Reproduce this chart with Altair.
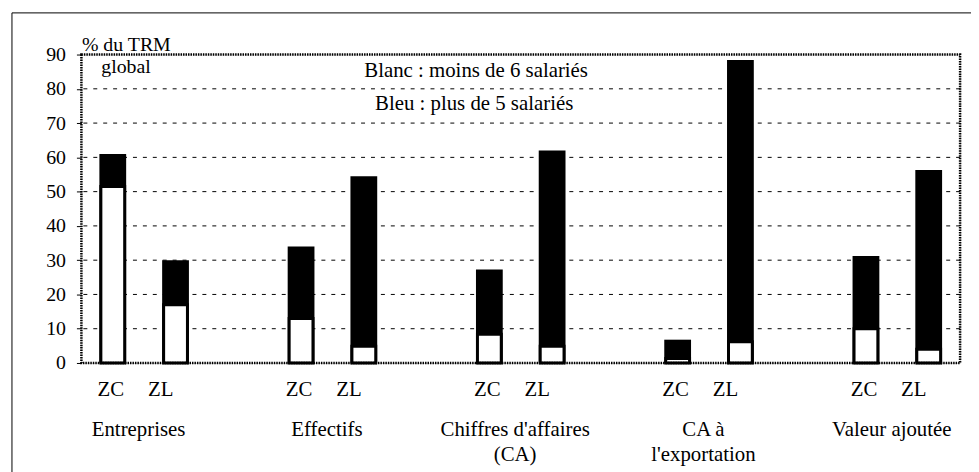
import altair as alt
import pandas as pd

FONT = "Liberation Serif"

GROUPS = ["Entreprises", "Effectifs", "Chiffres d'affaires (CA)", "CA à l'exportation", "Valeur ajoutée"]
GROUP_LABELS = ["Entreprises", "Effectifs", "Chiffres d'affaires\n(CA)", "CA à\nl'exportation", "Valeur ajoutée"]
ZONES = ["ZC", "ZL"]

# white part = moins de 6 salariés ; total = white + plus de 5 salariés
WHITE_ZC = [51.5, 13.0, 8.4, 1.3, 10.0]
TOTAL_ZC = [61.0, 34.0, 27.3, 6.8, 31.2]
WHITE_ZL = [17.0, 4.9, 4.9, 6.2, 4.0]
TOTAL_ZL = [30.0, 54.5, 62.0, 88.4, 56.3]

Y_TICKS = [0, 10, 20, 30, 40, 50, 60, 70, 80, 90]
GRID_VALUES = [10, 20, 30, 40, 50, 60, 70, 80]

AXIS_TITLE = "% du TRM"
SUBTITLE = "global"
LEGEND_LINES = ["Blanc : moins de 6 salariés", "Bleu : plus de 5 salariés"]

slots = []
for i, g in enumerate(GROUPS):
    slots += [f"{g}|ZC", f"{g}|ZL"]
    if i < len(GROUPS) - 1:
        slots.append(f"gap{i}")

rows = []
for i, g in enumerate(GROUPS):
    rows.append(dict(slot=f"{g}|ZC", zone="ZC", group=g, white=WHITE_ZC[i], total=TOTAL_ZC[i]))
    rows.append(dict(slot=f"{g}|ZL", zone="ZL", group=g, white=WHITE_ZL[i], total=TOTAL_ZL[i]))
df = pd.DataFrame(rows)

grp_df = pd.DataFrame({"slot": [f"{g}|ZC" for g in GROUPS], "label": GROUP_LABELS})
grid_df = pd.DataFrame({"g": GRID_VALUES})
one = pd.DataFrame({"a": [0]})

W, H = 886, 311
FS = 21

xscale = alt.Scale(domain=slots, paddingInner=0, paddingOuter=0)
yscale = alt.Scale(domain=[0, 90], nice=False)
yaxis = alt.Axis(
    values=Y_TICKS, grid=False, domain=False, ticks=True, tickSize=5,
    tickColor="black", tickWidth=1, labelFont=FONT, labelFontSize=20,
    labelColor="black", labelPadding=11, title=AXIS_TITLE, titleFont=FONT,
    titleFontSize=20, titleFontWeight="normal", titleColor="black",
    titleAngle=0, titleAlign="left", titleBaseline="alphabetic", titleX=0, titleY=-4,
)

X = alt.X("slot:N", scale=xscale, axis=None)

grid = alt.Chart(grid_df).mark_rule(color="black", strokeWidth=1, strokeDash=[4, 6]).encode(
    y=alt.Y("g:Q", scale=yscale, axis=yaxis)
)

black = alt.Chart(df).mark_bar(width=27, color="black").encode(
    x=X, y=alt.Y("total:Q", scale=yscale, axis=yaxis, stack=None)
)
white = alt.Chart(df).mark_bar(width=24, fill="white", stroke="black", strokeWidth=3).encode(
    x=X, y=alt.Y("white:Q", scale=yscale, axis=yaxis, stack=None)
)

zc_lab = alt.Chart(df).transform_filter("datum.zone == 'ZC'").mark_text(
    font=FONT, fontSize=FS, color="black", dx=-2, baseline="middle"
).encode(x=X, y=alt.value(H + 27), text="zone:N")
zl_lab = alt.Chart(df).transform_filter("datum.zone == 'ZL'").mark_text(
    font=FONT, fontSize=FS, color="black", dx=-15, baseline="middle"
).encode(x=X, y=alt.value(H + 27), text="zone:N")

grp_lab = alt.Chart(grp_df).mark_text(
    font=FONT, fontSize=FS, color="black", dx=26, baseline="top", lineBreak="\n", lineHeight=25
).encode(x=X, y=alt.value(H + 57), text="label:N")

sub = alt.Chart(one).mark_text(font=FONT, fontSize=20, color="black", align="left", baseline="alphabetic").encode(
    x=alt.value(20), y=alt.value(19), text=alt.value(SUBTITLE)
)
leg1 = alt.Chart(one).mark_text(font=FONT, fontSize=FS, color="black", align="center", baseline="middle").encode(
    x=alt.value(398), y=alt.value(17), text=alt.value(LEGEND_LINES[0])
)
leg2 = alt.Chart(one).mark_text(font=FONT, fontSize=FS, color="black", align="center", baseline="middle").encode(
    x=alt.value(396), y=alt.value(50), text=alt.value(LEGEND_LINES[1])
)

outer = alt.Chart(one).mark_rect(filled=False, stroke="black", strokeWidth=1).encode(
    x=alt.value(-70), x2=alt.value(W + 40), y=alt.value(-42), y2=alt.value(H + 130)
)
plotframe = alt.Chart(one).mark_rect(
    filled=False, stroke="black", strokeWidth=2.5, strokeDash=[1.5, 1]
).encode(x=alt.value(0), x2=alt.value(W), y=alt.value(0), y2=alt.value(H))

chart = alt.layer(
    outer, grid, black, white, plotframe, zc_lab, zl_lab, grp_lab, sub, leg1, leg2
).properties(
    width=W, height=H,
    autosize=alt.AutoSizeParams(type="none"),
    padding={"left": 74, "top": 45, "right": 11, "bottom": 110},
).configure_view(
    stroke=None
).configure(background="white")

chart.save("out.html", embed_options={"renderer": "svg", "actions": False})
